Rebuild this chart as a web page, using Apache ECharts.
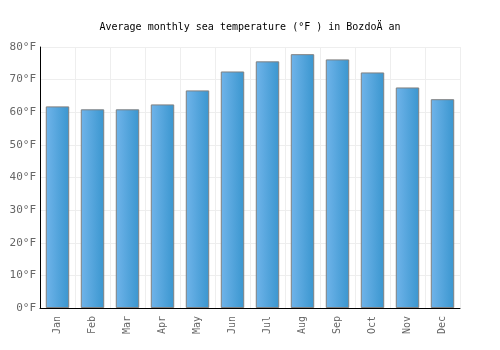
<!DOCTYPE html>
<html>
<head>
<meta charset="utf-8">
<script src="https://cdn.jsdelivr.net/npm/echarts@6/dist/echarts.min.js"></script>
<style>
    html, body { margin: 0; padding: 0; background: #fff; }
    #chart { width: 500px; height: 350px; }
</style>
</head>
<body>
<div id="chart"></div>
<script>
    let months = ['Jan', 'Feb', 'Mar', 'Apr', 'May', 'Jun', 'Jul', 'Aug', 'Sep', 'Oct', 'Nov', 'Dec'];
    let seaTemp = [61.8, 60.9, 60.9, 62.4, 66.7, 72.5, 75.6, 77.8, 76.2, 72.2, 67.6, 64.0];
    let titleText = 'Average monthly sea temperature (°F ) in BozdoÄ an';

    let chart = echarts.init(document.getElementById('chart'));
    let mono = '"DejaVu Sans Mono", monospace';

    let option = {
        animation: false,
        title: {
            text: titleText,
            left: 'center',
            top: 17,
            textStyle: {
                fontFamily: mono,
                fontSize: 10,
                fontWeight: 'normal',
                color: '#000'
            }
        },
        grid: {
            left: 40,
            right: 40,
            top: 47,
            bottom: 42
        },
        xAxis: {
            type: 'category',
            data: months,
            axisLine: { lineStyle: { color: '#000', width: 1 } },
            axisTick: { show: false },
            axisLabel: {
                rotate: 90,
                fontFamily: mono,
                fontSize: 10,
                color: '#666',
                margin: 8
            },
            splitLine: { show: true, lineStyle: { color: '#eeeeee' } }
        },
        yAxis: {
            type: 'value',
            min: 0,
            max: 80,
            interval: 10,
            axisLine: { show: true, lineStyle: { color: '#000', width: 1 } },
            axisTick: { show: false },
            axisLabel: {
                formatter: '{value}°F',
                fontFamily: mono,
                fontSize: 11,
                color: '#666',
                margin: 4
            },
            splitLine: { lineStyle: { color: '#eeeeee' } }
        },
        series: [{
            type: 'bar',
            data: seaTemp,
            barWidth: '67%',
            itemStyle: {
                color: new echarts.graphic.LinearGradient(0, 0, 1, 0, [
                    { offset: 0, color: '#70b4ea' },
                    { offset: 1, color: '#3a96cf' }
                ]),
                borderColor: '#808080',
                borderWidth: 1
            }
        }]
    };
    chart.setOption(option);
</script>
</body>
</html>
